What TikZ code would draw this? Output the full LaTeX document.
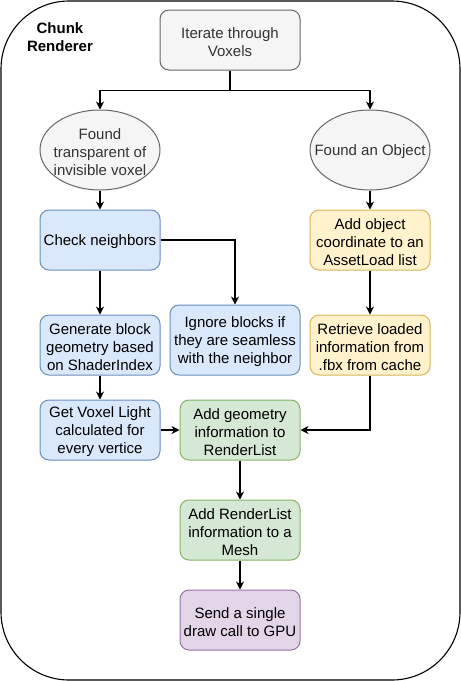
\documentclass[tikz,border=0pt]{standalone}
\usepackage{fontspec}
\setmainfont{Liberation Sans}
\usetikzlibrary{shapes.geometric,arrows.meta}
\definecolor{grayfill}{HTML}{F5F5F5}\definecolor{graydraw}{HTML}{666666}\definecolor{graytext}{HTML}{333333}
\definecolor{bluefill}{HTML}{DAE8FC}\definecolor{bluedraw}{HTML}{6C8EBF}
\definecolor{yelfill}{HTML}{FFF2CC}\definecolor{yeldraw}{HTML}{D6B656}
\definecolor{grnfill}{HTML}{D5E8D4}\definecolor{grndraw}{HTML}{82B366}
\definecolor{purfill}{HTML}{E1D5E7}\definecolor{purdraw}{HTML}{9673A6}
\tikzset{
  txt/.style={font=\fontsize{15}{18}\selectfont, align=center, inner sep=0pt},
  lbl/.style={txt, yshift=-2pt},
  box/.style={rectangle, rounded corners=9pt, line width=1pt, minimum width=120pt, minimum height=60pt, inner sep=0pt},
  bluebox/.style={box, fill=bluefill, draw=bluedraw},
  yelbox/.style={box, fill=yelfill, draw=yeldraw},
  grnbox/.style={box, fill=grnfill, draw=grndraw},
  purbox/.style={box, fill=purfill, draw=purdraw},
  graybox/.style={box, fill=grayfill, draw=graydraw},
  oval/.style={ellipse, fill=grayfill, draw=graydraw, line width=1pt, minimum width=120pt, minimum height=80pt, inner sep=0pt},
  graylbl/.style={lbl, text=graytext},
  arr/.style={line width=1.2pt, -{Stealth[length=8pt,width=8pt,inset=2.5pt]}}
}
\begin{document}
\begin{tikzpicture}[x=1pt,y=-1pt]
\useasboundingbox (0,0) rectangle (461,681);
\draw[line width=1.1pt, rounded corners=68pt] (1,1) rectangle (460,680);
\node[txt, font=\fontsize{15}{18}\selectfont\bfseries] (title) at (60,37) {Chunk\\Renderer};
\node[graybox, minimum width=140pt, label={[graylbl]center:{Iterate through\\Voxels}}] (iter) at (230,40) {};
\node[oval, label={[graylbl]center:{Found\\transparent of\\invisible voxel}}] (e1) at (100,150) {};
\node[oval, label={[graylbl]center:{Found an Object}}] (e2) at (370,150) {};
\node[bluebox, label={[lbl]center:{Check neighbors}}] (check) at (100,240) {};
\node[yelbox, label={[lbl]center:{Add object\\coordinate to an\\AssetLoad list}}] (addobj) at (370,240) {};
\node[bluebox, label={[lbl]center:{Generate block\\geometry based\\on ShaderIndex}}] (gen) at (100,345) {};
\node[bluebox, minimum width=130pt, minimum height=70pt, label={[lbl]center:{Ignore blocks if\\they are seamless\\with the neighbor}}] (ignore) at (235,340) {};
\node[yelbox, label={[lbl]center:{Retrieve loaded\\information from\\.fbx from cache}}] (retr) at (370,345) {};
\node[bluebox, label={[lbl]center:{Get Voxel Light\\calculated for\\every vertice}}] (light) at (100,430) {};
\node[grnbox, label={[lbl]center:{Add geometry\\information to\\RenderList}}] (addgeo) at (240,430) {};
\node[grnbox, label={[lbl]center:{Add RenderList\\information to a\\Mesh}}] (addrl) at (240,530) {};
\node[purbox, label={[lbl]center:{Send a single\\draw call to GPU}}] (send) at (240,620) {};
\draw[arr] (iter.south) -- ++(0,20) -| (e1.north);
\draw[arr] (iter.south) -- ++(0,20) -| (e2.north);
\draw[arr] (e1) -- (check);
\draw[arr] (check.east) -| (ignore.north);
\draw[arr] (check) -- (gen);
\draw[arr] (gen) -- (light);
\draw[arr] (light) -- (addgeo);
\draw[arr] (e2) -- (addobj);
\draw[arr] (addobj) -- (retr);
\draw[arr] (retr.south) |- (addgeo.east);
\draw[arr] (addgeo) -- (addrl);
\draw[arr] (addrl) -- (send);
\end{tikzpicture}
\end{document}
